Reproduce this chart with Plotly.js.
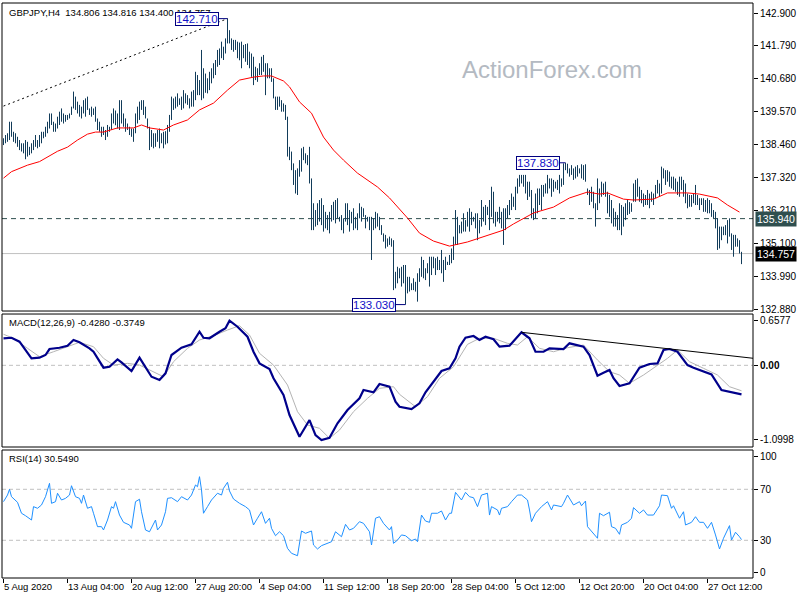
<!DOCTYPE html>
<html>
<head>
<meta charset="utf-8">
<script src="https://cdn.plot.ly/plotly-3.0.1.min.js"></script>
<style>html,body{margin:0;padding:0;background:#fff;}#chart{width:800px;height:600px;}</style>
</head>
<body>
<div id="chart"></div>
<script>
// ---------- DATA ----------
const headerText = 'GBPJPY,H4  134.806 134.816 134.400 134.757';
const macdTitle = 'MACD(12,26,9) -0.4280 -0.3749';
const rsiTitle = 'RSI(14) 30.5490';
const watermark = 'ActionForex.com';

// 4-hour bars, one per index, 5 Aug 2020 20:00 ... 30 Oct 2020 08:00
const highs = [
 138.66,138.77,138.83,139.22,139.22,138.88,138.83,138.71,138.60,138.49,
 138.49,138.60,138.54,138.37,138.49,138.60,138.77,138.60,138.77,138.88,
 138.88,139.05,139.22,139.50,139.50,139.22,139.16,139.39,139.56,139.67,
 139.50,139.45,139.45,139.50,139.73,140.24,140.07,139.90,139.79,139.73,
 139.95,140.01,140.07,139.67,139.73,139.67,139.73,139.33,139.22,139.05,
 139.05,138.94,139.11,139.05,139.50,139.67,139.60,
 139.50,139.95,139.95,139.50,139.33,139.16,139.05,138.99,138.99,139.50,
 139.73,139.90,139.95,139.95,139.73,139.33,139.05,138.94,138.83,138.83,
 138.94,138.99,138.83,138.88,138.90,
 139.11,139.45,140.07,140.01,140.07,140.18,140.01,140.07,140.29,140.18,
 140.12,140.01,140.24,140.29,140.91,140.80,140.63,141.65,141.03,140.85,
 140.69,140.91,141.03,141.20,141.31,141.65,141.70,141.93,141.76,142.04,142.71,
 142.32,142.04,141.99,141.99,141.93,141.90,141.93,141.82,141.85,141.87,141.59,
 141.53,141.42,141.08,141.03,141.20,141.42,141.48,141.20,141.20,141.03,
 141.03,140.69,140.07,140.07,140.07,139.95,139.84,139.79,
 139.39,138.37,138.21,137.81,137.58,137.64,137.92,138.32,138.37,138.15,
 138.09,138.37,137.30,136.46,136.23,136.46,136.57,136.63,136.40,136.17,
 136.06,136.17,136.40,136.51,136.57,136.63,136.00,136.06,135.95,136.46,
 136.46,136.23,136.17,136.29,136.00,136.12,136.46,136.34,136.29,136.06,
 136.00,136.00,136.00,135.95,136.17,136.12,136.00,135.72,135.44,135.39,
 135.27,135.33,135.27,135.21,134.14,134.31,134.26,134.31,134.37,134.37,
 133.97,133.97,133.75,133.92,133.80,134.09,134.26,134.65,134.54,134.26,
 134.43,134.65,134.65,134.65,134.60,134.65,134.54,134.88,134.54,134.65,
 134.48,134.71,134.93,135.33,136.23,136.00,135.72,135.84,136.12,135.89,
 136.17,136.29,136.17,136.00,136.12,136.12,135.89,136.57,136.34,136.40,
 136.34,136.57,137.02,136.85,136.17,136.17,136.34,136.17,
 136.29,
 136.29,136.40,136.57,136.79,136.68,137.02,137.30,137.42,137.42,137.42,
 137.42,137.19,137.19,136.91,136.29,136.79,136.96,136.96,137.08,137.08,
 137.13,137.42,137.30,137.30,137.25,137.19,137.25,137.42,137.30,137.81,
 137.83,137.80,137.64,137.75,137.64,137.70,137.75,137.64,137.78,137.75,
 137.78,136.96,136.91,137.02,136.85,136.46,137.30,136.96,137.19,137.13,
 137.19,136.85,136.74,136.57,136.29,136.17,136.06,136.46,136.40,136.34,
 136.46,136.57,136.50,
 136.46,137.13,137.25,137.30,137.02,136.91,136.79,136.74,
 136.91,136.79,136.85,136.79,137.08,137.25,137.13,137.70,137.64,137.58,
 137.58,137.53,137.36,137.36,137.30,137.19,137.36,137.36,137.25,137.13,
 136.79,136.74,136.74,136.79,137.08,136.74,136.63,136.63,136.63,136.57,
 136.63,136.57,136.46,136.23,136.17,135.95,135.67,135.67,135.67,135.72,
 135.89,135.95,135.44,135.39,135.39,135.27,135.21,134.816
];
const lows = [
 138.43,138.49,138.54,138.60,138.71,138.54,138.49,138.37,138.26,138.21,
 138.15,137.95,138.04,138.09,138.15,138.26,138.37,138.32,138.37,138.49,
 138.66,138.71,138.83,138.99,139.11,138.88,138.88,138.99,139.11,139.22,
 139.16,139.22,139.28,139.33,139.45,139.67,139.62,139.50,139.39,139.33,
 139.50,139.39,139.62,139.45,139.39,139.45,139.22,138.94,138.88,138.71,
 138.77,138.60,138.71,138.88,138.94,139.16,139.10,
 138.99,138.94,139.16,139.05,138.88,138.94,138.77,138.71,138.54,138.83,
 139.16,139.28,139.62,139.45,139.33,138.99,138.26,138.37,138.32,138.37,
 138.54,138.32,138.49,138.32,138.45,
 138.49,138.88,139.28,139.62,139.67,139.73,139.79,139.62,139.67,139.84,
 139.79,139.67,139.73,139.73,139.95,140.12,140.12,139.95,140.01,140.20,
 140.18,140.29,140.52,140.69,140.80,141.08,141.14,141.37,141.31,141.53,141.87,
 141.87,141.65,141.59,141.65,141.37,141.30,141.03,141.37,141.25,141.14,141.03,
 140.74,140.46,140.63,140.57,140.80,140.80,140.91,140.12,140.69,140.69,
 140.57,140.01,139.62,139.62,139.73,139.56,139.56,139.28,
 138.04,137.92,137.58,137.08,136.79,136.74,137.36,137.53,137.92,137.81,
 137.75,137.13,135.55,135.55,135.67,135.72,135.84,135.72,135.50,135.61,
 135.55,135.44,135.84,135.89,135.78,135.95,135.84,135.55,135.44,135.84,
 135.72,135.50,135.78,135.55,135.61,135.55,135.95,135.84,136.00,135.61,
 135.84,135.55,134.54,135.55,135.61,135.67,135.55,135.39,135.16,134.93,
 134.99,135.05,134.99,133.52,133.58,133.75,133.92,133.64,133.75,133.03,
 133.41,133.47,133.52,133.52,133.47,133.13,133.80,133.97,133.92,133.86,
 134.09,133.64,134.03,134.26,134.03,134.20,134.20,134.09,133.80,134.20,
 134.37,134.37,134.43,134.54,135.05,135.05,135.44,135.44,135.50,135.50,
 135.67,135.50,135.72,135.84,135.61,135.21,135.44,135.67,135.84,135.72,
 136.06,135.55,136.00,135.78,135.67,135.84,135.78,135.61,
 135.05,
 135.55,135.95,136.06,136.23,136.34,136.23,136.79,137.02,137.13,137.02,
 136.79,136.57,136.68,135.95,135.89,135.95,136.12,136.40,136.23,136.68,
 136.79,136.79,136.96,136.68,136.85,136.96,136.91,136.79,137.02,137.08,
 137.58,137.47,137.36,137.42,137.25,137.30,137.36,137.47,137.30,137.25,
 137.19,136.74,136.40,136.51,136.29,135.67,136.23,136.46,136.68,136.74,
 136.68,136.12,136.00,135.78,135.67,135.67,135.55,135.55,135.38,135.67,
 135.89,136.06,136.10,
 136.17,136.51,136.51,136.68,136.51,136.46,136.34,136.40,
 136.40,136.29,136.51,136.40,136.63,136.79,136.68,136.79,137.30,137.08,
 137.19,137.02,136.96,136.91,136.85,136.74,136.68,136.91,136.68,136.46,
 136.29,136.34,136.34,136.46,136.40,136.40,136.23,136.40,136.17,136.17,
 136.12,136.12,136.00,135.95,135.61,134.88,134.93,135.21,135.38,135.38,
 135.10,135.33,134.88,134.65,134.99,134.99,134.76,134.400
];
const lastClose = 134.757;
const resistLevel = 135.94;

// moving average (red), sampled at bar indices
const maIdx = [0,4,12,18,27,32,37,42,46,50,57,65,69,73,80,85,92,98,105,112,118,125,130,134,140,143,148,154,160,165,170,177,187,193,202,208,215,223,232,240,250,255,265,275,283,292,298,302,310,315,325,332,342,348,357,362,368];
const maVal = [137.31,137.53,137.75,137.87,138.22,138.36,138.60,138.80,138.87,138.87,139.01,139.01,139.11,139.01,138.94,139.11,139.28,139.62,139.85,140.29,140.63,140.73,140.77,140.77,140.60,140.40,139.89,139.51,138.70,138.26,137.92,137.48,137.01,136.64,135.96,135.45,135.18,135.01,135.15,135.32,135.55,135.76,136.13,136.33,136.64,136.84,136.77,136.81,136.60,136.57,136.60,136.81,136.81,136.77,136.64,136.40,136.16];

// dotted trend line into the top
const trendIdx = [0, 112];
const trendVal = [139.75, 142.71];

// MACD main line
const macdIdx = [0,4,8,11,14,18,21,23,28,32,35,38,43,45,48,50,53,57,59,64,68,72,74,78,81,84,89,94,98,100,103,108,111,113,117,122,125,128,133,135,140,143,148,151,153,156,159,163,167,172,178,180,185,188,193,196,198,204,208,211,215,219,223,226,228,231,235,238,241,245,248,253,259,263,266,270,273,280,283,290,293,297,300,303,305,308,313,318,323,327,330,333,337,342,345,350,354,359,363,369];
const macdVal = [0.398,0.406,0.348,0.225,0.103,0.112,0.152,0.240,0.259,0.289,0.373,0.339,0.250,0.200,0.053,-0.035,-0.021,0.088,0.044,-0.084,0.112,-0.069,-0.168,-0.216,-0.118,0.152,0.259,0.309,0.495,0.406,0.398,0.495,0.545,0.6577,0.568,0.421,0.200,0.029,-0.054,-0.191,-0.437,-0.732,-1.052,-0.904,-0.806,-1.027,-1.0998,-1.066,-0.854,-0.658,-0.486,-0.364,-0.398,-0.275,-0.315,-0.536,-0.610,-0.644,-0.560,-0.398,-0.242,-0.084,-0.044,0.103,0.274,0.406,0.432,0.373,0.421,0.383,0.274,0.289,0.486,0.398,0.200,0.200,0.250,0.240,0.324,0.274,0.152,-0.153,-0.109,-0.069,-0.191,-0.305,-0.265,-0.035,0.019,0.029,0.225,0.240,0.200,0.004,-0.035,-0.084,-0.133,-0.364,-0.389,-0.428];
// MACD signal line
const sigIdx = [0,5,12,18,25,32,38,45,50,55,62,68,75,80,85,92,98,105,112,118,123,128,135,142,147,152,158,163,168,175,182,188,195,198,206,212,218,225,232,238,245,252,257,262,268,275,282,290,297,303,308,313,320,327,332,337,343,350,357,363,369];
const sigVal = [0.457,0.398,0.250,0.127,0.200,0.274,0.339,0.274,0.103,0.004,0.029,0.004,-0.094,-0.168,0.053,0.250,0.373,0.436,0.520,0.583,0.446,0.177,0.004,-0.290,-0.683,-0.879,-0.928,-1.075,-0.953,-0.683,-0.486,-0.339,-0.315,-0.427,-0.610,-0.462,-0.191,-0.021,0.309,0.398,0.398,0.324,0.299,0.421,0.250,0.200,0.259,0.299,0.078,-0.094,-0.143,-0.265,-0.143,0.004,0.103,0.225,0.053,-0.044,-0.143,-0.315,-0.3749];
// MACD trend line
const macdTrendIdx = [259, 375];
const macdTrendVal = [0.486, 0.103];
const macdTicks = [0.6577, 0, -1.0998];
const macdTickText = ['0.6577', '<b>0.00</b>', '-1.0998'];

// RSI(14)
const rsiIdx = [0,2,3,4,7,9,11,14,15,17,19,21,23,24,26,27,29,31,33,34,36,38,39,40,42,44,45,47,49,50,52,54,55,56,58,60,63,64,66,68,69,71,73,74,76,77,79,81,82,84,87,89,92,94,96,97,98,99,100,102,104,107,109,110,112,113,115,118,119,121,123,125,127,129,131,133,134,136,138,140,142,144,147,149,151,154,155,157,159,162,164,166,169,171,173,175,178,180,182,183,184,186,188,190,193,194,195,197,199,
 201,204,206,207,208,209,211,213,214,217,219,221,223,224,226,229,231,233,235,237,239,242,243,244,247,248,249,252,254,257,259,262,263,264,266,269,272,274,275,279,280,282,285,288,289,291,292,294,297,298,300,303,304,306,308,309,312,314,315,318,320,322,325,328,329,332,334,335,338,340,341,344,346,348,350,352,354,356,358,360,363,364,366,368,369];
const rsiVal = [60.3,65.5,70.0,64.2,59.8,51.2,49.3,45.9,56.4,55.1,57.7,64.2,74.7,59.0,60.3,66.9,61.6,62.9,65.5,72.8,64.2,62.9,59.0,65.5,55.1,56.4,51.2,40.7,40.7,38.1,45.9,56.4,55.1,60.3,49.8,44.1,42.0,39.4,60.3,62.2,52.4,38.1,36.7,39.4,45.9,38.1,42.0,52.4,62.9,63.4,60.3,64.2,61.6,65.5,73.4,72.0,79.9,69.5,51.2,56.4,61.6,66.9,65.5,70.8,75.5,68.7,62.4,59.0,58.2,56.4,53.8,42.0,47.3,52.4,43.3,47.3,39.4,33.6,36.7,33.6,23.7,19.8,17.9,37.3,35.5,37.3,26.3,23.2,25.8,27.6,28.9,36.7,32.8,42.5,38.1,39.4,44.6,43.3,39.4,36.7,26.3,47.3,48.5,43.3,38.1,40.7,27.6,30.2,34.2,
 33.6,29.7,31.0,28.9,39.9,49.8,45.1,44.1,51.2,51.2,53.0,45.9,51.2,51.2,67.6,61.6,67.6,64.2,63.4,56.4,65.5,66.9,49.8,56.4,53.8,49.8,55.1,56.4,60.3,65.5,65.5,61.6,53.8,44.6,51.2,56.4,60.3,53.8,57.7,56.4,59.0,65.5,57.7,60.3,57.1,60.8,40.7,36.7,31.6,51.2,49.3,52.0,40.7,39.4,34.7,42.0,44.1,47.3,55.6,51.2,53.8,49.8,49.8,57.1,65.5,65.0,55.1,57.1,47.3,52.4,42.0,44.1,48.5,44.1,44.1,39.4,44.1,34.2,23.2,31.6,41.5,30.2,36.3,32.8,30.549];
const rsiLevels = [70, 30];
const rsiTicks = [95.6, 70, 30, 4.6];
const rsiTickText = ['100', '70', '30', '0'];

// price axis labels
const priceTicks = [142.900,141.790,140.680,139.570,138.460,137.320,136.210,135.100,133.990,132.880];

// time axis labels (every 32 bars)
const timeTickIdx = [0,32,64,96,128,160,192,224,256,288,320,352];
const timeTickText = ['5 Aug 2020','13 Aug 04:00','20 Aug 12:00','27 Aug 20:00','4 Sep 04:00','11 Sep 12:00','18 Sep 20:00','28 Sep 04:00','5 Oct 12:00','12 Oct 20:00','20 Oct 04:00','27 Oct 12:00'];

// ---------- BUILD ----------
const n = highs.length;
const segX = [], segY = [];
for (let i = 0; i < n; i++) { segX.push(i, i, null); segY.push(lows[i], highs[i], null); }

function argMax(a, from, to) { let k = from; for (let i = from; i <= to; i++) if (a[i] > a[k]) k = i; return k; }
function argMin(a, from, to) { let k = from; for (let i = from; i <= to; i++) if (a[i] < a[k]) k = i; return k; }
const topI = argMax(highs, 0, n - 1);
const botI = argMin(lows, 0, n - 1);
const swingI = argMax(highs, 250, n - 1);

const FONT = 'Liberation Sans, Arial, sans-serif';
const barColor = '#123c5a';

const traces = [
  {x: segX, y: segY, type: 'scatter', mode: 'lines', line: {color: barColor, width: 1}, hoverinfo: 'skip', xaxis: 'x', yaxis: 'y'},
  {x: maIdx, y: maVal, type: 'scatter', mode: 'lines', line: {color: '#ff0000', width: 1}, xaxis: 'x', yaxis: 'y'},
  {x: trendIdx, y: trendVal, type: 'scatter', mode: 'lines', line: {color: '#000', width: 1, dash: '2px,3px'}, xaxis: 'x', yaxis: 'y'},
  {x: sigIdx, y: sigVal, type: 'scatter', mode: 'lines', line: {color: '#b4b4b4', width: 1}, xaxis: 'x', yaxis: 'y2'},
  {x: macdIdx, y: macdVal, type: 'scatter', mode: 'lines', line: {color: '#00008b', width: 2.2}, xaxis: 'x', yaxis: 'y2'},
  {x: macdTrendIdx, y: macdTrendVal, type: 'scatter', mode: 'lines', line: {color: '#000', width: 1}, xaxis: 'x', yaxis: 'y2'},
  {x: rsiIdx, y: rsiVal, type: 'scatter', mode: 'lines', line: {color: '#1e90ff', width: 1}, xaxis: 'x', yaxis: 'y3'}
];

const axisCommon = {showgrid: false, zeroline: false, showline: false, ticks: 'outside', ticklen: 4, tickcolor: '#000', tickwidth: 1,
  tickfont: {family: FONT, size: 10, color: '#000'}, fixedrange: true};

const frame = (ref) => ({type: 'rect', xref: 'paper', yref: ref, x0: 0, x1: 1, y0: 0, y1: 1, line: {color: '#000', width: 1}});
const hline = (ref, v, color, dash) => ({type: 'line', xref: 'paper', yref: ref, x0: 0, x1: 1, y0: v, y1: v, layer: 'below', line: {color: color, width: 1, dash: dash}});

const shapes = [
  hline('y', resistLevel, '#2f4f4f', '5px,4px'),
  hline('y', lastClose, '#c0c0c0', 'solid'),
  hline('y2', 0, '#c0c0c0', '4px,3px'),
  ...rsiLevels.map(v => hline('y3', v, '#c0c0c0', '4px,3px')),
  frame('y domain'), frame('y2 domain'), frame('y3 domain')
];

const boxLabel = (i, v, ax) => ({x: i, y: v, xref: 'x', yref: 'y', text: v.toFixed(3), showarrow: true, arrowhead: 0, arrowwidth: 1,
  arrowcolor: '#000080', ax: ax, ay: 0, standoff: 0, startstandoff: 0, font: {family: FONT, size: 11.5, color: '#1010c8'},
  bordercolor: '#000080', borderwidth: 1, borderpad: 0, bgcolor: '#ffffff'});
const sideLabel = (v, bg) => ({xref: 'paper', yref: 'y', x: 1, y: v, xanchor: 'left', yanchor: 'middle', xshift: 2, text: v.toFixed(3),
  showarrow: false, bgcolor: bg, borderpad: 1, font: {family: FONT, size: 10.5, color: '#ffffff'}});

const annotations = [
  {xref: 'paper', yref: 'paper', x: 0.0067, y: 0.9843, xanchor: 'left', yanchor: 'middle', text: headerText, showarrow: false, font: {family: FONT, size: 9.5, color: '#000'}},
  {xref: 'paper', yref: 'paper', x: 0.0067, y: 0.4435, xanchor: 'left', yanchor: 'middle', text: macdTitle, showarrow: false, font: {family: FONT, size: 9.5, color: '#000'}},
  {xref: 'paper', yref: 'paper', x: 0.0067, y: 0.2078, xanchor: 'left', yanchor: 'middle', text: rsiTitle, showarrow: false, font: {family: FONT, size: 9.5, color: '#000'}},
  {xref: 'paper', yref: 'paper', x: 0.733, y: 0.8835, xanchor: 'center', yanchor: 'middle', text: watermark, showarrow: false, font: {family: FONT, size: 24, color: '#b4bac2'}},
  boxLabel(topI, highs[topI], -31),
  boxLabel(botI, lows[botI], -31.5),
  boxLabel(swingI, highs[swingI], -28),
  sideLabel(resistLevel, '#2f4f4f'),
  sideLabel(lastClose, '#000000')
];

const layout = {
  width: 800, height: 600,
  margin: {l: 2, r: 47, t: 3, b: 22, pad: 0},
  paper_bgcolor: '#ffffff', plot_bgcolor: '#ffffff',
  showlegend: false, hovermode: false,
  font: {family: FONT, size: 10, color: '#000'},
  xaxis: Object.assign({}, axisCommon, {range: [-0.75, 374.75], anchor: 'y3', tickmode: 'array', tickvals: timeTickIdx, ticktext: timeTickText, tickangle: 0, ticklabelposition: 'outside right', ticklabeloverflow: 'allow', tickfont: {family: FONT, size: 9.5, color: '#000'}}),
  yaxis: Object.assign({}, axisCommon, {domain: [0.4643, 1], range: [132.812, 143.239], side: 'right', anchor: 'x', tickmode: 'array', tickvals: priceTicks, ticktext: priceTicks.map(v => v.toFixed(3))}),
  yaxis2: Object.assign({}, axisCommon, {domain: [0.2278, 0.4591], range: [-1.2032, 0.7555], side: 'right', anchor: 'x', tickmode: 'array', tickvals: macdTicks, ticktext: macdTickText}),
  yaxis3: Object.assign({}, axisCommon, {domain: [0, 0.2226], range: [0.43, 100.82], side: 'right', anchor: 'x', tickmode: 'array', tickvals: rsiTicks, ticktext: rsiTickText}),
  shapes: shapes,
  annotations: annotations
};

Plotly.newPlot('chart', traces, layout, {displayModeBar: false, staticPlot: true});
</script>
</body>
</html>
